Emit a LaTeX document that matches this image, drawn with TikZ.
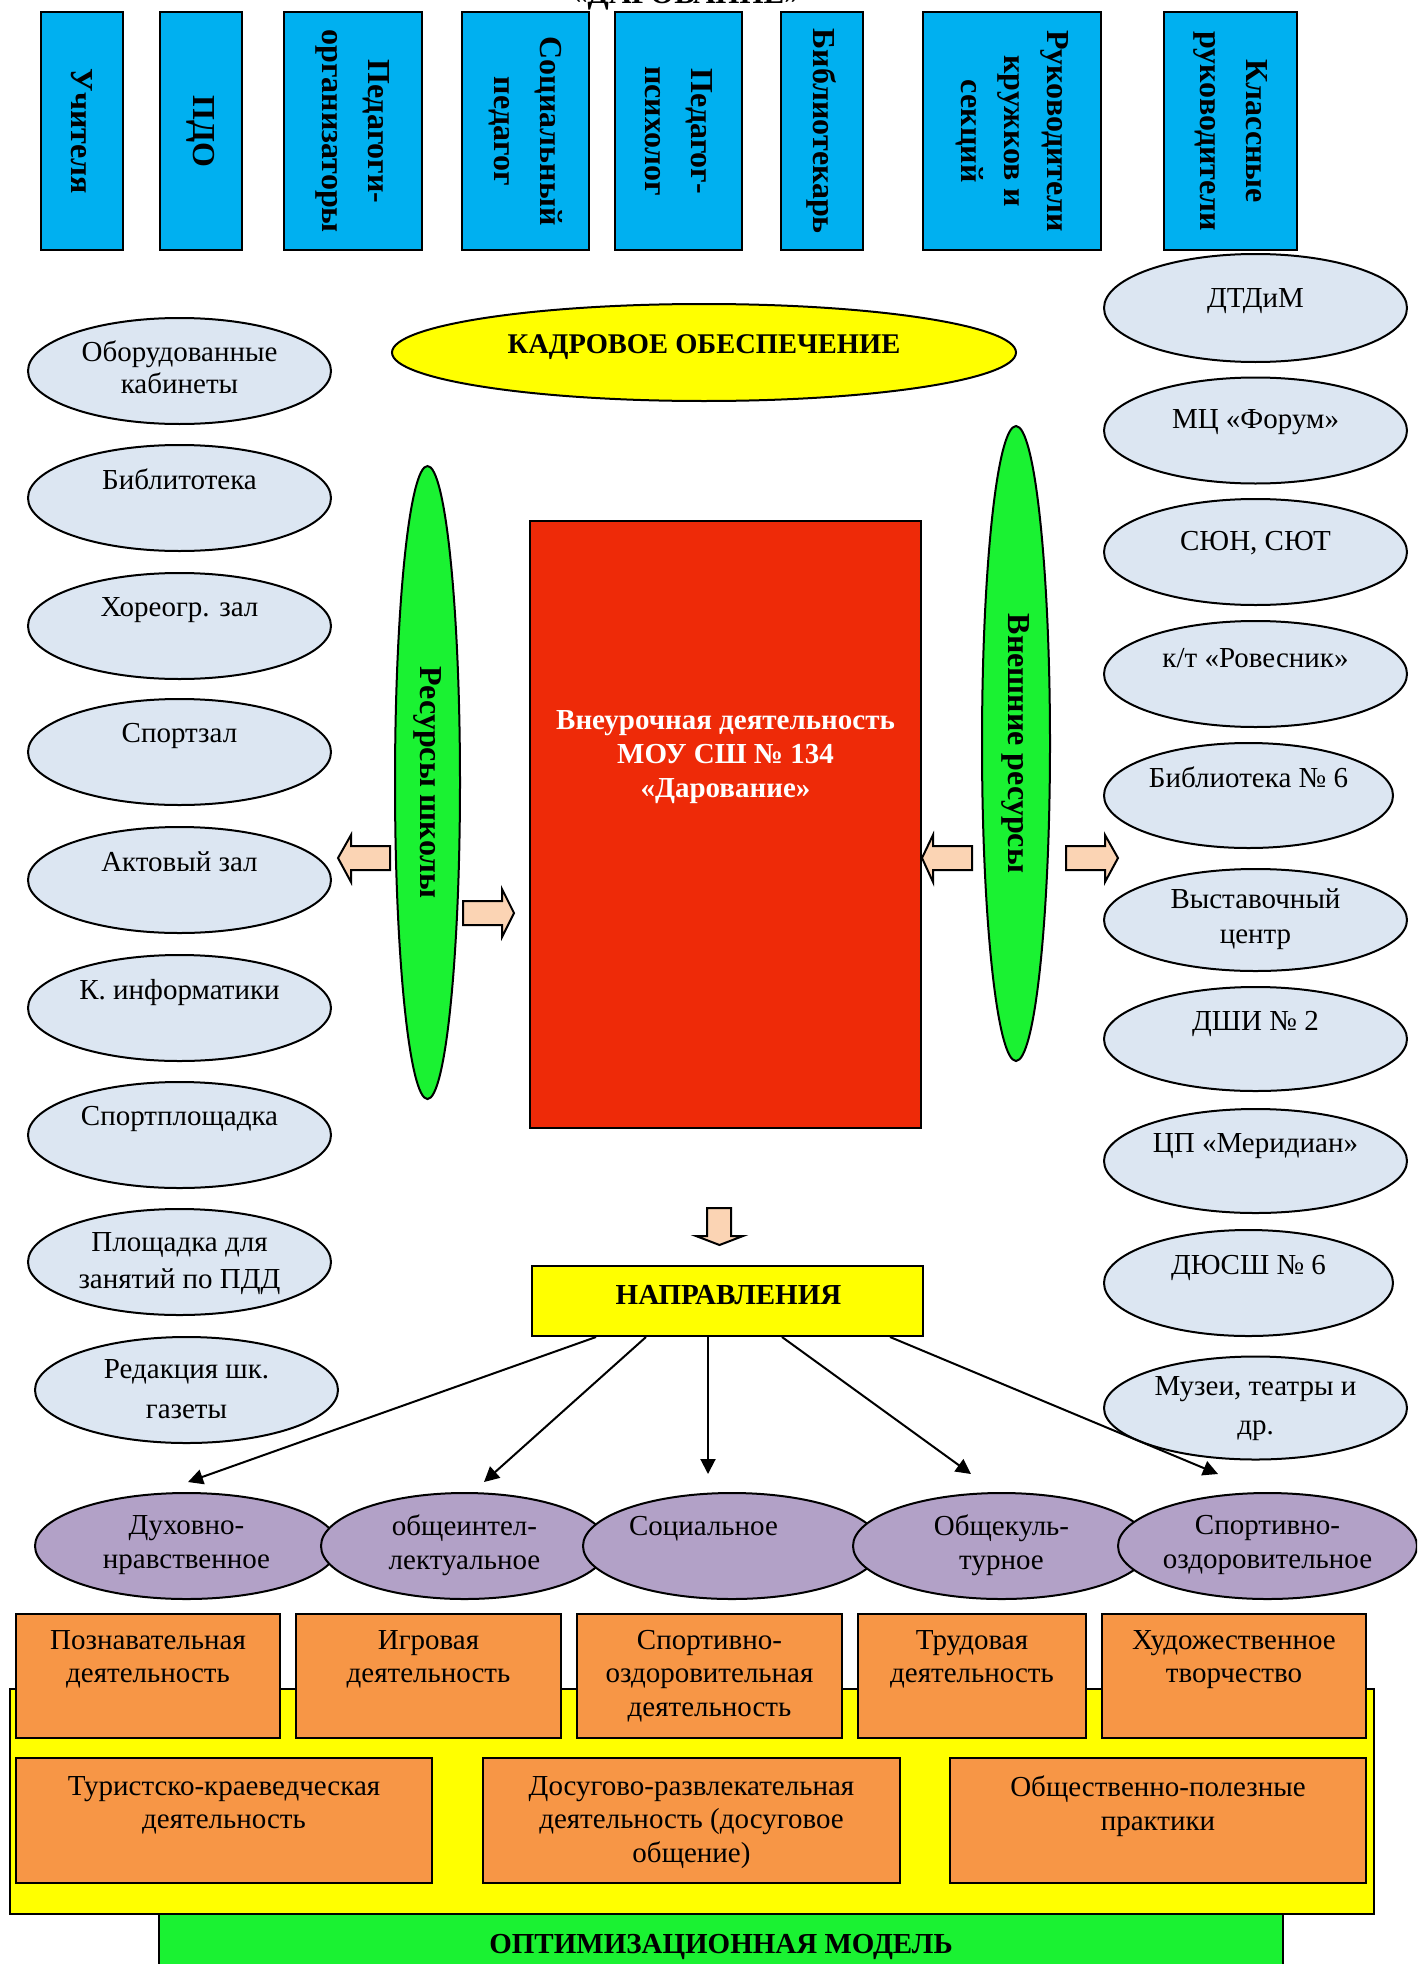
\documentclass[tikz,border=0pt]{standalone}
\usepackage{fontspec}
\setmainfont{Liberation Serif}
\usetikzlibrary{shapes.geometric,calc,arrows.meta}
\definecolor{cblue}{RGB}{0,176,240}
\definecolor{cyel}{RGB}{255,255,0}
\definecolor{cgreen}{RGB}{26,242,50}
\definecolor{cred}{RGB}{238,42,8}
\definecolor{cpale}{RGB}{220,230,242}
\definecolor{cpurple}{RGB}{178,161,199}
\definecolor{corange}{RGB}{247,150,70}
\definecolor{cpeach}{RGB}{251,212,180}
\begin{document}
\begin{tikzpicture}[x=1pt,y=-1pt,
  bord/.style={draw=black, line width=2pt},
  staffbox/.style={bord, fill=cblue, rectangle, rotate=-90, inner sep=0pt, align=center,
    font=\bfseries\fontsize{32}{46}\selectfont, minimum width=237.5pt},
  resell/.style={bord, fill=cpale, ellipse, inner sep=0pt, minimum width=303pt, minimum height=106pt},
  direll/.style={bord, fill=cpurple, ellipse, inner sep=0pt, minimum height=106pt},
  txt/.style={anchor=north, inner sep=0pt, align=center, font=\fontsize{29}{34}\selectfont},
  actbox/.style={bord, fill=corange, rectangle, inner sep=0pt},
  barrow/.style={draw=black, line width=2pt, fill=cpeach, line join=miter},
  conn/.style={draw=black, line width=2pt, -{Triangle[length=15pt,width=15pt]}}
]
\useasboundingbox (0,0) rectangle (1417,1964);
\fill[white] (0,0) rectangle (1417,1964);
\clip (0,0) rectangle (1417,1964);

% title (cut off at the top, as in the original)
\node[anchor=base, inner sep=0pt, font=\bfseries\fontsize{31}{31}\selectfont] (title) at (686,4) {«ДАРОВАНИЕ»};

% staff boxes
\node[staffbox, minimum height=82pt]  (s1) at (82,131.25) {Учителя};
\node[staffbox, minimum height=82pt]  (s2) at (201,131.25) {ПДО};
\node[staffbox, minimum height=138pt] (s3) at (353,131.25) {Педагоги-\\организаторы};
\node[staffbox, minimum height=127pt] (s4) at (525.5,131.25) {Социальный\\педагог};
\node[staffbox, minimum height=127pt] (s5) at (678.5,131.25) {Педагог-\\психолог};
\node[staffbox, minimum height=82pt]  (s6) at (822,131.25) {Библиотекарь};
\node[staffbox, minimum height=178pt, font=\bfseries\fontsize{32}{43}\selectfont] (s7) at (1012,131.25) {Руководители\\кружков и\\секций};
\node[staffbox, minimum height=133pt] (s8) at (1230.5,131.25) {Классные\\руководители};

% staffing ellipse
\node[bord, fill=cyel, ellipse, inner sep=0pt, minimum width=624pt, minimum height=97pt] (kadr) at (704,352.5) {};
\node[anchor=base, inner sep=0pt, font=\bfseries\fontsize{28.5}{34}\selectfont] (kadrt) at (704,353) {КАДРОВОЕ ОБЕСПЕЧЕНИЕ};

% school resources (left)
\node[resell] (L1) at (179.5,371) {};
\node[resell] (L2) at (179.5,498) {};
\node[resell] (L3) at (179.5,626) {};
\node[resell] (L4) at (179.5,752) {};
\node[resell] (L5) at (179.5,880) {};
\node[resell] (L6) at (179.5,1008) {};
\node[resell] (L7) at (179.5,1135) {};
\node[resell] (L8) at (179.5,1262) {};
\node[resell] (L9) at (186.5,1390) {};
\node[txt, font=\fontsize{29}{32}\selectfont] (L1t) at ($(L1.center)+(0,-30)$) {Оборудованные\\кабинеты};
\node[txt] (L2t) at ($(L2.center)+(0,-29)$) {Библитотека};
\node[txt] (L3t) at ($(L3.center)+(0,-29)$) {Хореогр. зал};
\node[txt] (L4t) at ($(L4.center)+(0,-29)$) {Спортзал};
\node[txt] (L5t) at ($(L5.center)+(0,-29)$) {Актовый зал};
\node[txt] (L6t) at ($(L6.center)+(0,-29)$) {К. информатики};
\node[txt] (L7t) at ($(L7.center)+(0,-29)$) {Спортплощадка};
\node[txt, font=\fontsize{29}{37}\selectfont] (L8t) at ($(L8.center)+(0,-30)$) {Площадка для\\занятий по ПДД};
\node[txt, font=\fontsize{29}{40}\selectfont] (L9t) at ($(L9.center)+(0,-31)$) {Редакция шк.\\газеты};

% external resources (right)
\node[resell, minimum height=108pt] (R1) at (1255.5,308) {};
\node[resell] (R2) at (1255.5,430.5) {};
\node[resell] (R3) at (1255.5,552) {};
\node[resell] (R4) at (1255.5,674) {};
\node[resell, minimum width=289pt, minimum height=105pt] (R5) at (1248.5,795.5) {};
\node[resell, minimum height=102pt] (R6) at (1255.5,920) {};
\node[resell, minimum height=104pt] (R7) at (1255.5,1039) {};
\node[resell, minimum height=104pt] (R8) at (1255.5,1161) {};
\node[resell, minimum width=289pt] (R9) at (1248.5,1283) {};
\node[resell, minimum height=103pt] (R10) at (1255.5,1408) {};
\node[txt] (R1t) at ($(R1.center)+(0,-20)$) {ДТДиМ};
\node[txt] (R2t) at ($(R2.center)+(0,-21)$) {МЦ «Форум»};
\node[txt] (R3t) at ($(R3.center)+(0,-21)$) {СЮН, СЮТ};
\node[txt] (R4t) at ($(R4.center)+(0,-26)$) {к/т «Ровесник»};
\node[txt] (R5t) at ($(R5.center)+(0,-29)$) {Библиотека № 6};
\node[txt, font=\fontsize{29}{35}\selectfont] (R6t) at ($(R6.center)+(0,-32)$) {Выставочный\\центр};
\node[txt] (R7t) at ($(R7.center)+(0,-28)$) {ДШИ № 2};
\node[txt] (R8t) at ($(R8.center)+(0,-28)$) {ЦП «Меридиан»};
\node[txt] (R9t) at ($(R9.center)+(0,-28)$) {ДЮСШ № 6};
\node[txt, font=\fontsize{29}{39}\selectfont] (R10t) at ($(R10.center)+(0,-32)$) {Музеи, театры и\\др.};

% green resource ellipses
\node[bord, fill=cgreen, ellipse, rotate=-90, inner sep=0pt, minimum width=633pt, minimum height=65pt,
  font=\bfseries\fontsize{32}{38}\selectfont] (rs) at (427.5,782.5) {Ресурсы школы};
\node[bord, fill=cgreen, ellipse, rotate=-90, inner sep=0pt, minimum width=635pt, minimum height=68pt,
  font=\bfseries\fontsize{32}{38}\selectfont] (re) at (1016,743.5) {Внешние ресурсы};

% central box
\node[bord, fill=cred, rectangle, inner sep=0pt, minimum width=391pt, minimum height=607pt] (main) at (725.5,824.5) {};
\node[txt, text=white, font=\bfseries\fontsize{29}{34}\selectfont] (maint) at (725.5,710) {Внеурочная деятельность\\МОУ СШ № 134\\«Дарование»};

% block arrows
\draw[barrow] (338,858) -- (351,835) -- (351,846) -- (390,846) -- (390,870) -- (351,870) -- (351,882) -- cycle;
\draw[barrow] (514,913) -- (502,889) -- (502,901) -- (463,901) -- (463,925) -- (502,925) -- (502,937) -- cycle;
\draw[barrow] (922,858) -- (933,835) -- (933,846) -- (972,846) -- (972,870) -- (933,870) -- (933,882) -- cycle;
\draw[barrow] (1118,858) -- (1105,835) -- (1105,846) -- (1066,846) -- (1066,870) -- (1105,870) -- (1105,882) -- cycle;
\draw[barrow] (719.5,1245) -- (696,1236) -- (707,1236) -- (707,1208) -- (731,1208) -- (731,1236) -- (743,1236) -- cycle;

% directions
\node[bord, fill=cyel, rectangle, inner sep=0pt, minimum width=391pt, minimum height=70pt] (napr) at (727.5,1301) {};
\node[anchor=base, inner sep=0pt, font=\bfseries\fontsize{29}{34}\selectfont] (naprt) at (728.5,1304) {НАПРАВЛЕНИЯ};

\node[direll, minimum width=303pt] (P1) at (186.5,1546) {};
\node[direll, minimum width=287pt] (P2) at (464.5,1546) {};
\node[direll, minimum width=298pt] (P3) at (732,1546) {};
\node[direll, minimum width=297pt] (P4) at (1001.5,1546) {};
\node[direll, minimum width=299pt] (P5) at (1267.5,1546) {};
\node[txt] (P1t) at ($(P1.center)+(0,-31)$) {Духовно-\\нравственное};
\node[txt] (P2t) at ($(P2.center)+(0,-31)$) {общеинтел-\\лектуальное};
\node[txt] (P3t) at (703.5,1516) {Социальное};
\node[txt] (P4t) at ($(P4.center)+(0,-31)$) {Общекуль-\\турное};
\node[txt] (P5t) at ($(P5.center)+(0,-31)$) {Спортивно-\\оздоровительное};

\draw[conn] ($(napr.south)+(-131.5,0)$) -- ($(P1.north)+(1.5,-10)$);
\draw[conn] ($(napr.south)+(-81.5,0)$) -- ($(P2.north)+(19.5,-10)$);
\draw[conn] ($(napr.south)+(-19.5,0)$) -- ($(P3.north)+(-24,-18)$);
\draw[conn] ($(napr.south)+(54.5,0)$) -- ($(P4.north)+(-30.5,-18)$);
\draw[conn] ($(napr.south)+(162.5,0)$) -- ($(P5.north)+(-49.5,-18)$);

% optimisation model
\node[bord, fill=cyel, rectangle, inner sep=0pt, minimum width=1364pt, minimum height=225pt] (opt) at (692,1801.5) {};
\node[bord, fill=cgreen, rectangle, inner sep=0pt, minimum width=1124pt, minimum height=76pt] (optg) at (721,1952) {};
\node[anchor=base, inner sep=0pt, font=\bfseries\fontsize{29}{34}\selectfont] (optt) at (721,1953) {ОПТИМИЗАЦИОННАЯ МОДЕЛЬ};

\node[actbox, minimum width=264pt, minimum height=124pt] (O1) at (148,1676) {};
\node[actbox, minimum width=265pt, minimum height=124pt] (O2) at (428.5,1676) {};
\node[actbox, minimum width=265pt, minimum height=124pt] (O3) at (709.5,1676) {};
\node[actbox, minimum width=228pt, minimum height=124pt] (O4) at (972,1676) {};
\node[actbox, minimum width=264pt, minimum height=124pt] (O5) at (1234,1676) {};
\node[actbox, minimum width=416pt, minimum height=125pt] (Q1) at (224,1820.5) {};
\node[actbox, minimum width=417pt, minimum height=125pt] (Q2) at (691.5,1820.5) {};
\node[actbox, minimum width=416pt, minimum height=125pt] (Q3) at (1158,1820.5) {};
\node[txt, font=\fontsize{29}{33.5}\selectfont] (O1t) at (148,1630) {Познавательная\\деятельность};
\node[txt, font=\fontsize{29}{33.5}\selectfont] (O2t) at (428.5,1630) {Игровая\\деятельность};
\node[txt, font=\fontsize{29}{33.5}\selectfont] (O3t) at (709.5,1630) {Спортивно-\\оздоровительная\\деятельность};
\node[txt, font=\fontsize{29}{33.5}\selectfont] (O4t) at (972,1630) {Трудовая\\деятельность};
\node[txt, font=\fontsize{29}{33.5}\selectfont] (O5t) at (1234,1630) {Художественное\\творчество};
\node[txt, font=\fontsize{29}{33.5}\selectfont] (Q1t) at (224,1776) {Туристско-краеведческая\\деятельность};
\node[txt, font=\fontsize{29}{33.5}\selectfont] (Q2t) at (691.5,1776) {Досугово-развлекательная\\деятельность (досуговое\\общение)};
\node[txt, font=\fontsize{29}{33.5}\selectfont] (Q3t) at (1158,1776) {Общественно-полезные\\практики};
\end{tikzpicture}
\end{document}
